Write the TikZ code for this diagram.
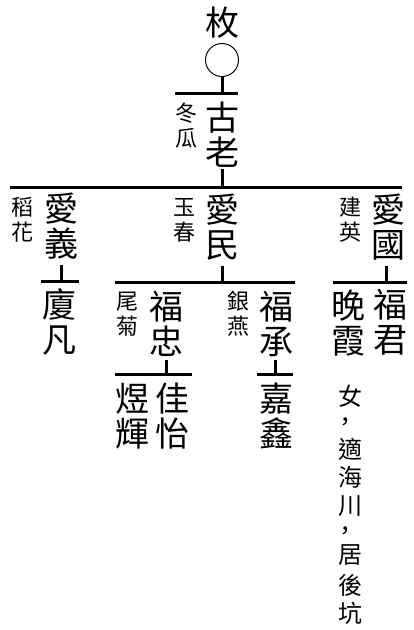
\documentclass[tikz,border=0pt]{standalone}
\usepackage{fontspec}
\newfontfamily\cjk{Noto Sans CJK TC}
\begin{document}
\begin{tikzpicture}[x=1pt,y=-1pt,
  big/.style={font=\cjk\fontsize{34}{35}\selectfont, align=center, inner sep=0pt},
  sm/.style={font=\cjk\fontsize{22}{25}\selectfont, align=center, inner sep=0pt},
  nt/.style={font=\cjk\fontsize{24}{29}\selectfont, inner sep=0pt},
  bar/.style={line width=3pt},
  tick/.style={line width=3pt}]
\useasboundingbox (0,0) rectangle (414,630);
% generation 0
\node[big] (mei) at (222,23) {枚};
\node[circle, draw, line width=1pt, minimum size=33pt, inner sep=0pt] (circ) at (222,60) {};
\coordinate (b0l) at (175,93); \coordinate (b0r) at (238,93);
\draw[bar] (b0l) -- (b0r);
\draw[tick] (circ.south) -- (circ.south |- b0l);
% generation 1
\node[big] (gulao) at (222,135) {古\\老};
\node[sm] (donggua) at (186,126) {冬\\瓜};
\coordinate (b1l) at (10,187); \coordinate (b1r) at (402,187);
\draw[bar] (b1l) -- (b1r);
\draw[tick] (gulao.south) ++(0,1) -- (gulao.south |- b1l);
% generation 2
\node[big] (aiyi) at (61,226) {愛\\義};
\node[sm] (daohua) at (23,220) {稻\\花};
\node[big] (aimin) at (222,227) {愛\\民};
\node[sm] (yuchun) at (184,220) {玉\\春};
\node[big] (aiguo) at (388,227) {愛\\國};
\node[sm] (jianying) at (350,220) {建\\英};
% bars under generation 2
\coordinate (b2al) at (41,281); \coordinate (b2ar) at (79,281);
\coordinate (b2bl) at (115,282); \coordinate (b2br) at (295,282);
\coordinate (b2cl) at (333,282); \coordinate (b2cr) at (407,282);
\draw[bar] (b2al) -- (b2ar);
\draw[bar] (b2bl) -- (b2br);
\draw[bar] (b2cl) -- (b2cr);
\draw[tick] (aiyi.south) ++(0,6) -- (aiyi.south |- b2al);
\draw[tick] (aimin.south) ++(0,6) -- (aimin.south |- b2bl);
\draw[tick] ([xshift=-2pt]aiguo.south) ++(0,6) -- ([xshift=-2pt]aiguo.south |- b2cl);
% generation 3
\node[big] (xiafan) at (59,322) {廈\\凡};
\node[big] (fuzhong) at (166,324) {福\\忠};
\node[sm] (weiju) at (127,314) {尾\\菊};
\node[big] (fucheng) at (276,324) {福\\承};
\node[sm] (yinyan) at (238,314) {銀\\燕};
\node[big] (fujun) at (390,322) {福\\君};
\node[big] (wanxia) at (348,323) {晚\\霞};
% note under 晚霞
\node[nt] (n1) at (350,396) {女};
\node[nt] (n2) at (345,424) {，};
\node[nt] (n3) at (350,449) {適};
\node[nt] (n4) at (350,477) {海};
\node[nt] (n5) at (350,506) {川};
\node[nt] (n6) at (345,533) {，};
\node[nt] (n7) at (350,555) {居};
\node[nt] (n8) at (350,585) {後};
\node[nt] (n9) at (350,613) {坑};
% bars under generation 3
\coordinate (b3al) at (115,374); \coordinate (b3ar) at (192,374);
\coordinate (b3bl) at (257,374); \coordinate (b3br) at (293,374);
\draw[bar] (b3al) -- (b3ar);
\draw[bar] (b3bl) -- (b3br);
\draw[tick] (fuzhong.south) ++(0,3) -- (fuzhong.south |- b3al);
\draw[tick] ([xshift=-1pt]fucheng.south) ++(0,3) -- ([xshift=-1pt]fucheng.south |- b3bl);
% generation 4
\node[big] (yuhui) at (132,416) {煜\\輝};
\node[big] (jiayi) at (172,416) {佳\\怡};
\node[big] (jiaxin) at (276,416) {嘉\\鑫};
\end{tikzpicture}
\end{document}
